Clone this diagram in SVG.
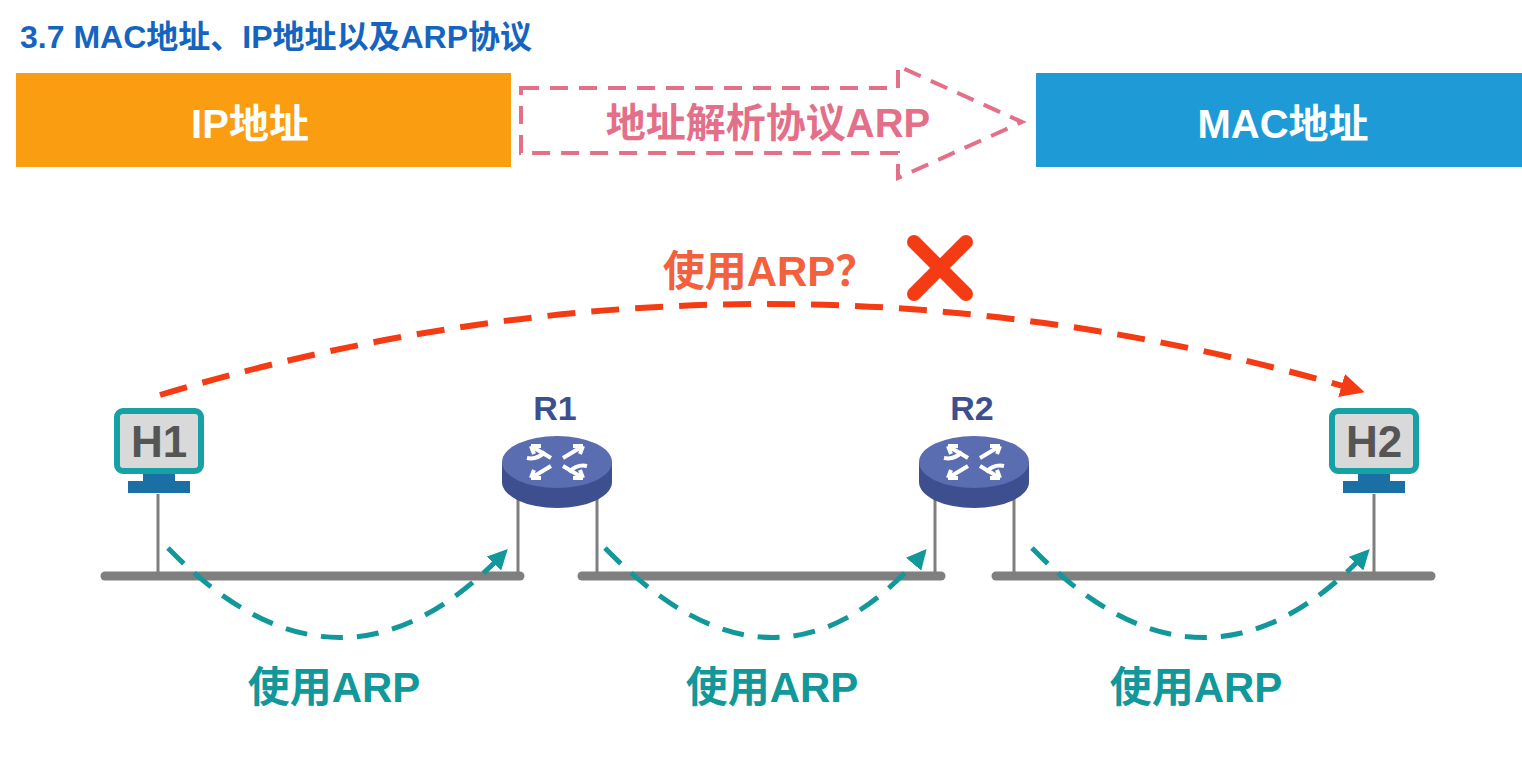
<svg xmlns="http://www.w3.org/2000/svg" width="1522" height="757" viewBox="0 0 1522 757">
<defs>
<style>
.t{font-family:"Liberation Sans","Noto Sans CJK SC",sans-serif;font-weight:bold}
.bus{stroke:#7f7f7f;stroke-width:9;stroke-linecap:round}
.leg{stroke:#7f7f7f;stroke-width:3}
.teal{fill:none;stroke:#12979a;stroke-width:5;stroke-dasharray:22 14}
.arp{fill:#12979a;font-size:42px;stroke:#fff;stroke-width:5;paint-order:stroke}
</style>
<marker id="ta" viewBox="0 0 10 10" refX="8" refY="5" markerWidth="4" markerHeight="4" orient="auto"><path d="M0,0L10,5L0,10z" fill="#12979a"/></marker>
<marker id="ra" viewBox="0 0 10 10" refX="8" refY="5" markerWidth="4" markerHeight="4" orient="auto"><path d="M0,0L10,5L0,10z" fill="#f53b13"/></marker>
<g id="mon"><rect x="-42" y="-29" width="84" height="60" rx="6" fill="#d9d9d9" stroke="#16a1a4" stroke-width="6"/><rect x="-16" y="34" width="32" height="8" fill="#1a6fa5"/><rect x="-31" y="41" width="62" height="12" fill="#1a6fa5"/></g>
<g id="rt"><path d="M-55,0v20a55,26 0 0 0 110,0v-20z" fill="#3d4f8f"/><ellipse cx="0" cy="0" rx="55" ry="26" fill="#5a6db0"/>
<g stroke="#fff" stroke-width="4" fill="none" stroke-linejoin="miter">
<path d="M-6,-4L-26,-16M-26,-16h10M-26,-16l3,8"/>
<path d="M6,4L26,16M26,16h-10M26,16l-3,-8"/>
<path d="M-30,-4Q-20,-2 -12,-10"/><path d="M30,4Q20,2 12,10"/>
<path d="M6,-4L26,-16M26,-16h-10M26,-16l-3,8"/>
<path d="M-6,4L-26,16M-26,16h10M-26,16l3,-8"/>
</g></g>
</defs>
<rect width="1522" height="757" fill="#fff"/>
<text class="t" x="20" y="48" font-size="32" fill="#1565c0">3.7 MAC地址、IP地址以及ARP协议</text>
<g id="ip"><rect x="16" y="73" width="495" height="94" fill="#fb9d10"/><text class="t" x="250" y="138" font-size="40" fill="#fff" text-anchor="middle">IP地址</text></g>
<g id="mac"><rect x="1036" y="73" width="486" height="94" fill="#1e9bd6"/><text class="t" x="1283" y="138" font-size="40" fill="#fff" text-anchor="middle">MAC地址</text></g>
<g id="arparrow"><path d="M521,88H898V66L1022,122L898,178V153H521Z" fill="none" stroke="#e46f88" stroke-width="4" stroke-dasharray="18 11"/>
<text class="t" x="768" y="137" font-size="40" fill="#e46f88" stroke="#fff" stroke-width="5" paint-order="stroke" text-anchor="middle">地址解析协议ARP</text></g>
<g id="net">
<line class="bus" x1="105" y1="576" x2="520" y2="576"/><line class="bus" x1="582" y1="576" x2="941" y2="576"/><line class="bus" x1="996" y1="576" x2="1431" y2="576"/>
<line class="leg" x1="158" y1="494" x2="158" y2="576"/><line class="leg" x1="1374" y1="494" x2="1374" y2="576"/>
<line class="leg" x1="518" y1="492" x2="518" y2="576"/><line class="leg" x1="597" y1="492" x2="597" y2="576"/>
<line class="leg" x1="935" y1="492" x2="935" y2="576"/><line class="leg" x1="1014" y1="492" x2="1014" y2="576"/>
</g>
<g id="H1"><use href="#mon" x="159" y="440"/><text class="t" x="159" y="457" font-size="44" fill="#555" text-anchor="middle">H1</text></g>
<g id="H2"><use href="#mon" x="1374" y="440"/><text class="t" x="1374" y="457" font-size="44" fill="#555" text-anchor="middle">H2</text></g>
<g id="R1"><use href="#rt" x="557" y="462"/><text class="t" x="555" y="420" font-size="34" fill="#3d4f8f" text-anchor="middle">R1</text></g>
<g id="R2"><use href="#rt" x="974" y="462"/><text class="t" x="972" y="420" font-size="34" fill="#3d4f8f" text-anchor="middle">R2</text></g>
<g id="connectors">
<path class="teal" d="M168,548Q340,725 505,552" marker-end="url(#ta)"/>
<path class="teal" d="M605,548Q777,725 924,552" marker-end="url(#ta)"/>
<path class="teal" d="M1032,548Q1204,725 1367,552" marker-end="url(#ta)"/>
<path d="M160,395Q760,215 1360,391" fill="none" stroke="#f53b13" stroke-width="6" stroke-dasharray="28 16" marker-end="url(#ra)"/>
</g>
<text class="t arp" x="334" y="702" text-anchor="middle">使用ARP</text>
<text class="t arp" x="772" y="702" text-anchor="middle">使用ARP</text>
<text class="t arp" x="1196" y="702" text-anchor="middle">使用ARP</text>
<text class="t" x="770" y="286" font-size="42" fill="#f2603d" stroke="#fff" stroke-width="5" paint-order="stroke" text-anchor="middle">使用ARP？</text>
<path d="M914,242L966,294M966,242L914,294" stroke="#f53b13" stroke-width="14" stroke-linecap="round"/>
</svg>
